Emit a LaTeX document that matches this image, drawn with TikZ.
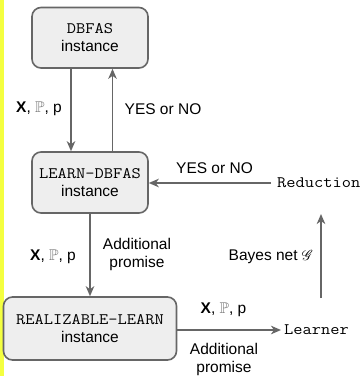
\documentclass[tikz,border=0pt]{standalone}
\usepackage{amssymb}
\usepackage{mathrsfs}
\usepackage{fontspec}
\setmainfont{Liberation Sans}
\usetikzlibrary{arrows.meta}
\definecolor{edgegray}{HTML}{666666}
\definecolor{boxfill}{HTML}{EEEEEE}
\definecolor{strip}{RGB}{244,255,64}
\tikzset{
  box/.style={draw=edgegray, fill=boxfill, line width=1.6pt, rounded corners=9pt,
    align=center, inner sep=0pt},
  arr/.style={draw=edgegray, line width=1.6pt, -{Stealth[length=10pt,width=8.5pt,inset=3pt]}},
  lbl/.style={inner sep=0pt, align=center},
}
\newcommand{\PP}{\textcolor{black!55}{$\mathbb{P}$}}
\newcommand{\XPp}{\textbf{X}, \PP, p}
\newcommand{\cour}[1]{\scalebox{1.12}[1]{\fontsize{16}{18}\selectfont\ttfamily #1}}
\begin{document}
\begin{tikzpicture}[x=1pt,y=-1pt,font=\fontsize{15.5}{18}\selectfont]
\useasboundingbox (0,0) rectangle (360,376);
\fill[white] (0,0) rectangle (360,376);
\fill[strip] (0,0) rectangle (3.5,376);

\node[box, minimum width=116pt, minimum height=60.5pt] (dbfas) at (90,37.75)
  {\cour{DBFAS}\\instance};
\node[box, minimum width=116pt, minimum height=61pt] (learn) at (90,182.5)
  {\cour{LEARN-DBFAS}\\instance};
\node[box, minimum width=173pt, minimum height=63pt] (real) at (90,328.5)
  {\cour{REALIZABLE-LEARN}\\instance};

\node[lbl, anchor=west] (red) at (277,183) {\cour{Reduction}};
\node[lbl, anchor=west] (lrn) at (284,330) {\cour{Learner}};

\coordinate (bnbot) at (321,298);
\coordinate (bntop) at (321,214);

\draw[arr] ([xshift=-19pt]dbfas.south) -- ([xshift=-19pt]learn.north);
\draw[arr] ([xshift=22.5pt]learn.north) -- ([xshift=22.5pt]dbfas.south);
\draw[arr] ([xshift=-6pt]red.west) -- (red.west -| learn.east);
\draw[arr] (learn.south) -- (real.north);
\draw[arr] (real.east |- lrn.west) -- ([xshift=-3pt]lrn.west);
\draw[arr] (bnbot) -- (bntop);

\node[lbl] (l1) at (39,109) {\XPp};
\node[lbl] (l2) at (163,109) {YES or NO};
\node[lbl] (l3) at (214.5,168) {YES or NO};
\node[lbl] (l4) at (53,257) {\XPp};
\node[lbl] (l5) at (137,254) {Additional\\promise};
\node[lbl] (l6) at (271,257) {Bayes net $\mathscr{G}$};
\node[lbl] (l7) at (223.5,310) {\XPp};
\node[lbl] (l8) at (224,359) {Additional\\promise};
\end{tikzpicture}
\end{document}
